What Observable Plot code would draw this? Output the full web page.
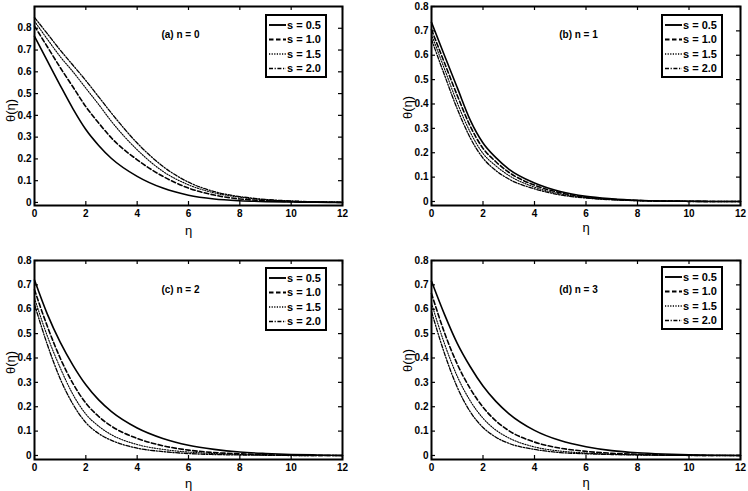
<!DOCTYPE html>
<html><head><meta charset="utf-8">
<script src="https://cdn.jsdelivr.net/npm/d3@7"></script>
<script src="https://cdn.jsdelivr.net/npm/@observablehq/plot@0.6"></script>
<style>
body{margin:0;background:#fff;}
#wrap{position:relative;width:748px;height:491px;overflow:hidden;background:#fff;}
.panel{position:absolute;}
</style></head><body><div id="wrap"></div>
<script>
// ---- data ----
const eta = [0, 0.5, 1, 1.5, 2, 2.5, 3, 4, 5, 6, 7, 8, 9, 10, 11, 12];
const sValues = ["0.5", "1.0", "1.5", "2.0"];
const panelTitles = ["(a) n = 0", "(b) n = 1", "(c) n = 2", "(d) n = 3"];
const xTicks = [0, 2, 4, 6, 8, 10, 12];
const yTicks = [0, 0.1, 0.2, 0.3, 0.4, 0.5, 0.6, 0.7, 0.8];
const yLabel = "θ(η)";
const xLabel = "η";

const n0_s05 = [0.763, 0.65, 0.538, 0.43, 0.335, 0.262, 0.202, 0.12, 0.066, 0.033, 0.016, 0.008, 0.004, 0.002, 0.001, 0.0];
const n0_s10 = [0.81, 0.715, 0.62, 0.53, 0.44, 0.365, 0.296, 0.196, 0.12, 0.066, 0.034, 0.016, 0.008, 0.004, 0.002, 0.0];
const n0_s15 = [0.832, 0.75, 0.67, 0.6, 0.525, 0.45, 0.372, 0.242, 0.143, 0.081, 0.044, 0.024, 0.012, 0.006, 0.003, 0.001];
const n0_s20 = [0.85, 0.775, 0.70, 0.63, 0.56, 0.485, 0.41, 0.273, 0.166, 0.093, 0.05, 0.027, 0.014, 0.007, 0.003, 0.001];

const n1_s05 = [0.735, 0.60, 0.467, 0.335, 0.24, 0.18, 0.133, 0.076, 0.041, 0.021, 0.011, 0.005, 0.002, 0.001, 0, 0];
const n1_s10 = [0.705, 0.57, 0.435, 0.31, 0.218, 0.163, 0.12, 0.067, 0.036, 0.018, 0.009, 0.004, 0.002, 0.001, 0, 0];
const n1_s15 = [0.685, 0.545, 0.405, 0.285, 0.197, 0.146, 0.107, 0.059, 0.031, 0.016, 0.008, 0.004, 0.002, 0.001, 0, 0];
const n1_s20 = [0.665, 0.52, 0.38, 0.262, 0.178, 0.127, 0.092, 0.052, 0.027, 0.014, 0.007, 0.003, 0.001, 0, 0, 0];

const n2_s05 = [0.72, 0.58, 0.465, 0.37, 0.29, 0.228, 0.18, 0.113, 0.07, 0.042, 0.025, 0.014, 0.008, 0.004, 0.002, 0];
const n2_s10 = [0.68, 0.53, 0.40, 0.295, 0.215, 0.16, 0.12, 0.07, 0.04, 0.022, 0.012, 0.007, 0.003, 0.001, 0, 0];
const n2_s15 = [0.645, 0.49, 0.36, 0.25, 0.17, 0.12, 0.085, 0.045, 0.025, 0.014, 0.008, 0.004, 0.002, 0.001, 0, 0];
const n2_s20 = [0.62, 0.455, 0.315, 0.21, 0.135, 0.09, 0.062, 0.03, 0.016, 0.008, 0.004, 0.002, 0.001, 0, 0, 0];

const n3_s05 = [0.715, 0.58, 0.46, 0.365, 0.285, 0.222, 0.172, 0.103, 0.061, 0.036, 0.02, 0.011, 0.006, 0.003, 0.001, 0];
const n3_s10 = [0.665, 0.505, 0.375, 0.275, 0.198, 0.142, 0.102, 0.055, 0.03, 0.017, 0.009, 0.005, 0.002, 0.001, 0, 0];
const n3_s15 = [0.625, 0.46, 0.325, 0.225, 0.153, 0.104, 0.072, 0.035, 0.018, 0.01, 0.005, 0.003, 0.001, 0, 0, 0];
const n3_s20 = [0.59, 0.42, 0.28, 0.18, 0.115, 0.075, 0.05, 0.025, 0.012, 0.007, 0.004, 0.002, 0.001, 0, 0, 0];

const panelSeries = [
  [n0_s05, n0_s10, n0_s15, n0_s20],
  [n1_s05, n1_s10, n1_s15, n1_s20],
  [n2_s05, n2_s10, n2_s15, n2_s20],
  [n3_s05, n3_s10, n3_s15, n3_s20]
];

// ---- layout / style ----
const FONT = '"Liberation Sans", Arial, sans-serif';
const lineStyles = [
  {dash: null, w: 1.6},
  {dash: "4.5,2.5", w: 1.6},
  {dash: "1.2,1.4", w: 1.1},
  {dash: "4,1.6,1.2,1.6", w: 1.3}
];
const layouts = [
  {left: 0,   top: 0,   w: 374, h: 245, ml: 34, mr: 32, mt: 6,  mb: 40, yDomain: [-0.014, 0.9],  titleDx: -8,   titleDy: 28, yLabDy: 4.5, xLabDy: 25, legX: 266, legY: 15},
  {left: 374, top: 0,   w: 374, h: 245, ml: 57, mr: 8,  mt: 6,  mb: 40, yDomain: [-0.0165, 0.8], titleDx: -7.5, titleDy: 28, yLabDy: 1.5, xLabDy: 22, legX: 288, legY: 15},
  {left: 0,   top: 245, w: 374, h: 246, ml: 34, mr: 32, mt: 15, mb: 32, yDomain: [-0.0165, 0.8], titleDx: -8,   titleDy: 29, yLabDy: 2.5, xLabDy: 24, legX: 266, legY: 23},
  {left: 374, top: 245, w: 374, h: 246, ml: 57, mr: 8,  mt: 15, mb: 32, yDomain: [-0.0165, 0.8], titleDx: -7.5, titleDy: 29, yLabDy: 0.5, xLabDy: 23, legX: 288, legY: 22}
];

const wrap = document.getElementById("wrap");

layouts.forEach((L, p) => {
  const innerW = L.w - L.ml - L.mr;
  const innerH = L.h - L.mt - L.mb;
  const rows = [];
  panelSeries[p].forEach((vals, i) => vals.forEach((v, j) => rows.push({eta: eta[j], theta: v, s: sValues[i]})));

  const lineMarks = sValues.map((s, i) => Plot.line(rows.filter(r => r.s === s), {
    x: "eta", y: "theta", stroke: "black",
    strokeWidth: lineStyles[i].w, strokeDasharray: lineStyles[i].dash,
    curve: "monotone-x"
  }));

  const svg = Plot.plot({
    width: L.w, height: L.h,
    marginLeft: L.ml, marginRight: L.mr, marginTop: L.mt, marginBottom: L.mb,
    x: {domain: [0, 12]},
    y: {domain: L.yDomain},
    style: {fontFamily: FONT, background: "white", color: "black", overflow: "visible"},
    marks: [
      Plot.axisX({ticks: xTicks, tickSize: 0, tickPadding: 4, fontWeight: "bold", fontSize: 10, label: null}),
      Plot.axisY({ticks: yTicks, tickSize: 0, tickPadding: 3, fontWeight: "bold", fontSize: 10, label: null,
                  tickFormat: d => d === 0 ? "0" : d.toFixed(1)}),
      Plot.ruleX(xTicks, {x: d => d, insetTop: innerH - 4, strokeWidth: 1.2}),
      Plot.ruleX(xTicks, {x: d => d, insetBottom: innerH - 4, strokeWidth: 1.2}),
      Plot.ruleY(yTicks, {y: d => d, insetRight: innerW - 4, strokeWidth: 1.2}),
      Plot.ruleY(yTicks, {y: d => d, insetLeft: innerW - 4, strokeWidth: 1.2}),
      ...lineMarks,
      Plot.frame({stroke: "black", strokeWidth: 2}),
      Plot.text([panelTitles[p]], {frameAnchor: "top", text: d => d, dx: L.titleDx, dy: L.titleDy, fontSize: 10, fontWeight: "bold", lineAnchor: "middle"}),
      Plot.text([yLabel], {frameAnchor: "left", text: d => d, rotate: -90, dx: -24, dy: L.yLabDy, fontSize: 13, lineAnchor: "middle", textAnchor: "middle"}),
      Plot.text([xLabel], {frameAnchor: "bottom", text: d => d, dy: L.xLabDy, fontSize: 13, lineAnchor: "middle"})
    ]
  });

  // legend (drawn inside the plot's svg)
  const g = d3.select(svg).append("g").attr("transform", `translate(${L.legX},${L.legY})`)
    .attr("text-anchor", "start");
  g.append("rect").attr("x", 0).attr("y", 0).attr("width", 60).attr("height", 62)
    .attr("fill", "white").attr("stroke", "black").attr("stroke-width", 2);
  sValues.forEach((s, i) => {
    const yy = 10 + i * 14.5;
    g.append("line").attr("x1", 3).attr("x2", 20).attr("y1", yy).attr("y2", yy)
      .attr("stroke", "black").attr("stroke-width", lineStyles[i].w + 0.3)
      .attr("stroke-dasharray", lineStyles[i].dash);
    g.append("text").attr("x", 21).attr("y", yy).attr("dy", "0.35em")
      .attr("text-anchor", "start")
      .attr("font-family", FONT).attr("font-size", 11).attr("font-weight", "bold")
      .attr("fill", "black").text(`s = ${s}`);
  });

  const div = document.createElement("div");
  div.className = "panel";
  div.style.left = L.left + "px";
  div.style.top = L.top + "px";
  div.appendChild(svg);
  wrap.appendChild(div);
});
</script>
</body></html>
